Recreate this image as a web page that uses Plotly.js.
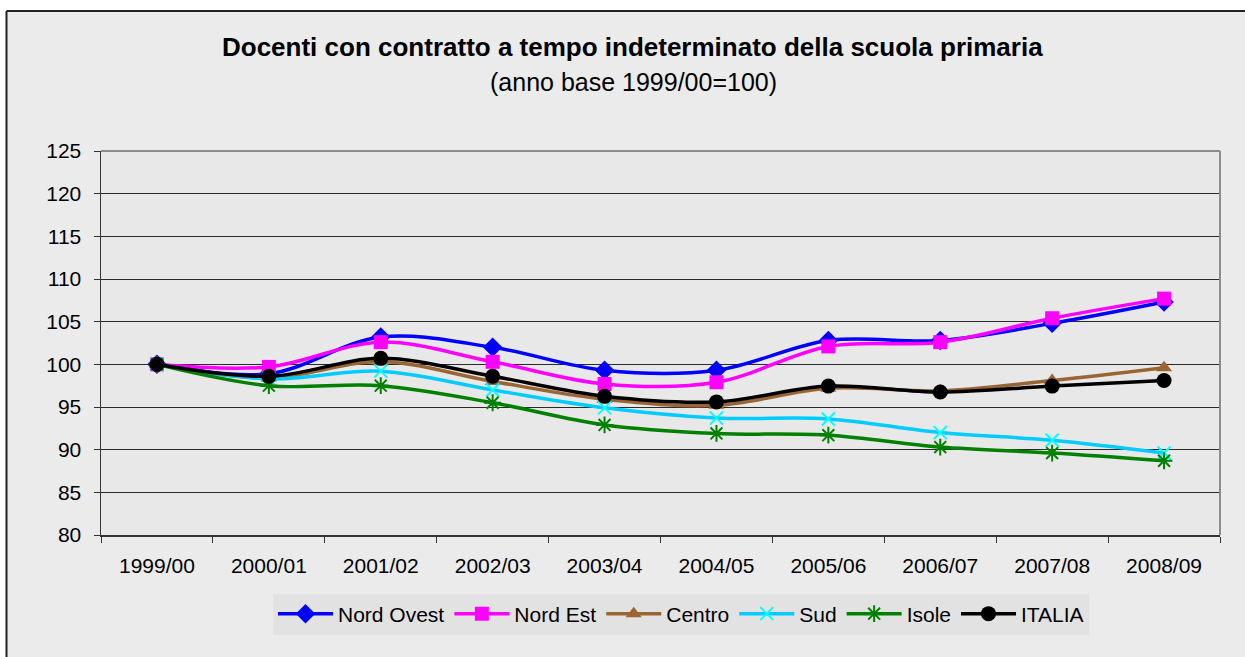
<!DOCTYPE html>
<html>
<head>
<meta charset="utf-8">
<script src="https://cdn.plot.ly/plotly-3.0.1.min.js"></script>
<style>html,body{margin:0;padding:0;background:#fff;}#chart{width:1245px;height:657px;}</style>
</head>
<body>
<div id="chart"></div>
<script>
// ---- data ----
const categories = ["1999/00","2000/01","2001/02","2002/03","2003/04","2004/05","2005/06","2006/07","2007/08","2008/09"];
const nordOvest = [100, 98.9, 103.2, 102.0, 99.3, 99.3, 102.8, 102.8, 104.8, 107.3];
const nordEst   = [100, 99.7, 102.6, 100.3, 97.7, 97.9, 102.1, 102.6, 105.4, 107.7];
const centro    = [100, 98.4, 100.3, 98.0, 95.9, 95.2, 97.2, 96.9, 98.1, 99.6];
const sud       = [100, 98.3, 99.2, 97.0, 94.9, 93.7, 93.6, 92.0, 91.1, 89.6];
const isole     = [100, 97.5, 97.5, 95.5, 92.9, 91.9, 91.7, 90.3, 89.6, 88.7];
const italia    = [100, 98.6, 100.7, 98.6, 96.25, 95.6, 97.45, 96.75, 97.45, 98.1];
const seriesNames = ["Nord Ovest","Nord Est","Centro","Sud","Isole","ITALIA"];
const titleText = "Docenti con contratto a tempo indeterminato della scuola primaria";
const subtitleText = "(anno base 1999/00=100)";

const FONT = "Liberation Sans, Arial, sans-serif";

function tr(name, y, lineColor, symbol, mColor, mSize, open) {
  const marker = {symbol: symbol, size: mSize, color: mColor};
  if (open) marker.line = {color: mColor, width: 2};
  else marker.line = {width: 0};
  return {
    x: categories, y: y, name: name, type: "scatter", mode: "lines+markers",
    line: {color: lineColor, width: 3.5, shape: "spline", smoothing: 1},
    marker: marker
  };
}

const data = [
  tr(seriesNames[0], nordOvest, "#0000FF", "diamond", "#0000FF", 15, false),
  tr(seriesNames[1], nordEst, "#FF00FF", "square", "#FF00FF", 14, false),
  tr(seriesNames[2], centro, "#996633", "triangle-up", "#996633", 14, false),
  tr(seriesNames[3], sud, "#00CCFF", "x-thin-open", "#00FFFF", 13, true),
  tr(seriesNames[4], isole, "#008000", "asterisk-open", "#008000", 14, true),
  tr(seriesNames[5], italia, "#000000", "circle", "#000000", 15, false)
];

// plot area in pixels: left 101, right 1220, top 151, bottom 535
const L = 101, R = 1220, T = 151, B = 535, W = 1245, H = 657;
const px = v => (v - L) / (R - L);
const py = v => (B - v) / (B - T);

const layout = {
  width: W, height: H,
  margin: {l: L, r: W - R, t: T, b: H - B, pad: 0},
  paper_bgcolor: "#ebebeb",
  plot_bgcolor: "#e8e8e8",
  font: {family: FONT, size: 21, color: "#000"},
  showlegend: true,
  legend: {
    orientation: "h", x: px(681), xanchor: "center", y: py(614), yanchor: "middle",
    bgcolor: "#e2e2e2", borderwidth: 0, font: {family: FONT, size: 21, color: "#000"},
    itemwidth: 55, tracegroupgap: 0
  },
  xaxis: {
    type: "category", range: [-0.5, 9.5], showgrid: false, zeroline: false,
    showline: true, linecolor: "#333", linewidth: 1.5,
    ticks: "outside", tickson: "boundaries", ticklen: 6, tickcolor: "#333", tickwidth: 1,
    ticklabelstandoff: 11,
    tickfont: {family: FONT, size: 21, color: "#000"}
  },
  yaxis: {
    range: [80, 125], dtick: 5, tick0: 80, showgrid: true, gridcolor: "#2a2a2a", gridwidth: 1,
    zeroline: false, showline: true, linecolor: "#333", linewidth: 1.5,
    ticks: "outside", ticklen: 6, tickcolor: "#333", tickwidth: 1,
    ticklabelstandoff: 8,
    tickfont: {family: FONT, size: 21, color: "#000"}
  },
  shapes: [
    {type: "rect", xref: "paper", yref: "paper", x0: px(-5), x1: px(1250), y0: py(11), y1: py(-5), fillcolor: "#ffffff", line: {width: 0}, layer: "below"},
    {type: "rect", xref: "paper", yref: "paper", x0: px(-5), x1: px(6), y0: py(700), y1: py(-5), fillcolor: "#ffffff", line: {width: 0}, layer: "below"},
    {type: "line", xref: "paper", yref: "paper", x0: px(6.5), x1: px(1250), y0: py(11), y1: py(11), line: {color: "#222", width: 2}},
    {type: "line", xref: "paper", yref: "paper", x0: px(6.5), x1: px(6.5), y0: py(11), y1: py(700), line: {color: "#222", width: 2}},
    {type: "line", xref: "paper", yref: "paper", x0: 0, x1: 1, y0: 1, y1: 1, line: {color: "#8c8c8c", width: 2}},
    {type: "line", xref: "paper", yref: "paper", x0: 1, x1: 1, y0: 0, y1: 1, line: {color: "#8c8c8c", width: 2}}
  ],
  annotations: [
    {text: "<b>" + titleText + "</b>", xref: "paper", yref: "paper", x: px(632), y: py(47), xanchor: "center", yanchor: "middle", showarrow: false, font: {family: FONT, size: 26, color: "#000"}},
    {text: subtitleText, xref: "paper", yref: "paper", x: px(633), y: py(82), xanchor: "center", yanchor: "middle", showarrow: false, font: {family: FONT, size: 25, color: "#000"}}
  ]
};

Plotly.newPlot("chart", data, layout, {displayModeBar: false, staticPlot: true});
</script>
</body>
</html>
